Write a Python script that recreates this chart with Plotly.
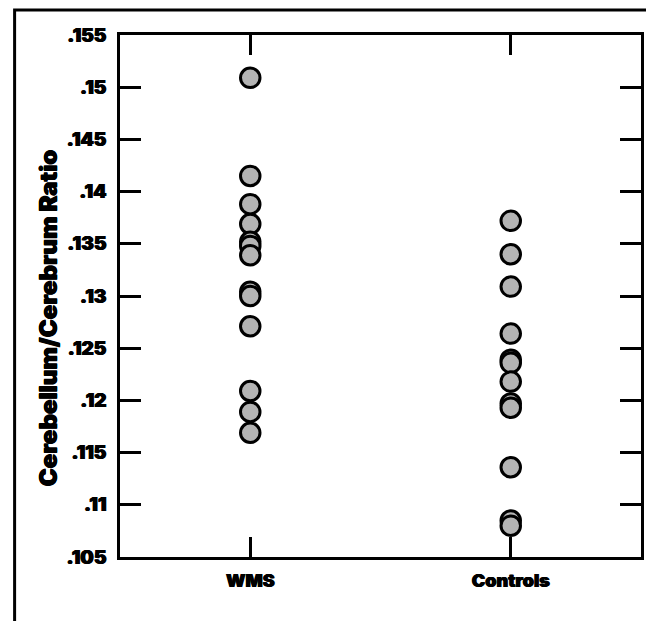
import plotly.graph_objects as go

# ---- data ----
categories = ["WMS", "Controls"]
wms_values = [0.1509, 0.1415, 0.1388, 0.1369, 0.1352, 0.1348, 0.1339,
              0.1304, 0.1300, 0.1271, 0.1209, 0.1189, 0.1169]
control_values = [0.1372, 0.1340, 0.1309, 0.1264, 0.1239, 0.1236,
                  0.1218, 0.1197, 0.1193, 0.1136, 0.1085, 0.1080]
y_tick_values = [0.155, 0.15, 0.145, 0.14, 0.135, 0.13, 0.125, 0.12, 0.115, 0.11, 0.105]
y_tick_labels = [".155", ".15", ".145", ".14", ".135", ".13", ".125", ".12", ".115", ".11", ".105"]
y_title = "Cerebellum/Cerebrum Ratio"

FONT = dict(family="Inter, Roboto, Liberation Sans, Arial, sans-serif", color="black",
            weight=900, shadow="0.6px 0 0 black, -0.4px 0 0 black")

# page body has an 8px default margin: figure is laid out 8px smaller/shifted
L, T, PW, PH = 112, 27, 524, 522
FW, FH = 646, 613

fig = go.Figure()
marker = dict(size=19.5, color="#b4b4b4", line=dict(color="black", width=3))
fig.add_trace(go.Scatter(x=[categories[0]] * len(wms_values), y=wms_values,
                         mode="markers", marker=marker, showlegend=False))
fig.add_trace(go.Scatter(x=[categories[1]] * len(control_values), y=control_values,
                         mode="markers", marker=marker, showlegend=False))

def px(x):
    return (x - L) / PW

def py(y):
    return (T + PH - y) / PH

fig.update_layout(
    width=FW, height=FH,
    margin=dict(l=L, r=FW - L - PW, t=T, b=FH - T - PH, pad=0),
    paper_bgcolor="white", plot_bgcolor="white",
    showlegend=False,
    xaxis=dict(
        type="category", categoryorder="array", categoryarray=categories,
        range=[-0.5, 1.5], showgrid=False, zeroline=False,
        showline=True, linecolor="black", linewidth=2.5, mirror="ticks",
        ticks="inside", ticklen=20, tickwidth=2.5, tickcolor="black",
        tickfont=dict(size=18, **FONT), ticklabelstandoff=6,
    ),
    yaxis=dict(
        range=[0.105, 0.155], tickvals=y_tick_values, ticktext=y_tick_labels,
        showgrid=False, zeroline=False,
        showline=True, linecolor="black", linewidth=2.5, mirror="ticks",
        ticks="inside", ticklen=21, tickwidth=2.5, tickcolor="black",
        tickfont=dict(size=19, **FONT), ticklabelstandoff=7,
    ),
    annotations=[dict(
        text=y_title, textangle=-90, showarrow=False,
        xref="paper", yref="paper", x=px(40), y=py(310),
        xanchor="center", yanchor="middle",
        font=dict(size=24, **FONT),
    )],
    shapes=[dict(
        type="rect", xref="paper", yref="paper",
        x0=px(6), x1=px(643), y0=py(FH + 10), y1=py(2),
        line=dict(color="black", width=3), fillcolor="rgba(0,0,0,0)",
    )],
)

fig.write_html("out.html")
